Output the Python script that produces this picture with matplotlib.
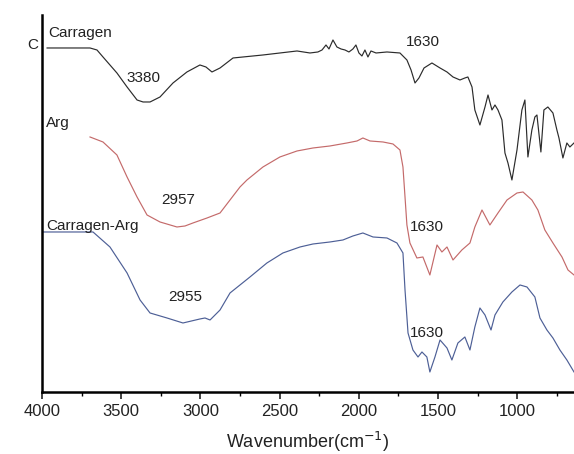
import numpy as np
import matplotlib
matplotlib.use("Agg")
import matplotlib.pyplot as plt
from matplotlib.ticker import MultipleLocator

plt.rcParams['font.family'] = ['Liberation Sans', 'DejaVu Sans']

# FTIR spectra, offset heights in arbitrary units
carragen_wn = [3968, 3697, 3653, 3615, 3527, 3463, 3400, 3362, 3318, 3255, 3173, 3085, 3003, 2965,
               2927, 2876, 2794, 2605, 2390, 2308, 2258, 2232, 2207, 2188, 2163, 2138, 2112, 2087,
               2062, 2037, 2018, 1999, 1980, 1961, 1942, 1923, 1891, 1822, 1740, 1696, 1670, 1645,
               1620, 1588, 1538, 1487, 1443, 1405, 1361, 1330, 1311, 1285, 1267, 1235, 1203, 1184,
               1159, 1140, 1121, 1096, 1077, 1058, 1033, 1001, 970, 951, 932, 907, 888, 875, 850,
               831, 806, 774, 749, 736, 711, 686, 667, 641]
carragen_y = [344, 344, 342, 335, 319, 305, 292, 290, 290, 295, 309, 320, 327, 325,
              320, 324, 334, 337, 341, 339, 340, 342, 347, 343, 352, 345, 343, 342,
              340, 343, 347, 339, 336, 342, 335, 341, 339, 340, 339, 332, 322, 309,
              314, 324, 329, 324, 320, 315, 312, 314, 315, 305, 282, 267, 285, 297,
              282, 287, 282, 272, 239, 229, 212, 242, 282, 292, 235, 262, 275, 277, 240,
              282, 285, 279, 262, 254, 234, 249, 245, 249]

arg_wn = [3697, 3615, 3527, 3463, 3400, 3337, 3255, 3148, 3097, 3047, 2958, 2876, 2813, 2750,
          2706, 2605, 2498, 2390, 2289, 2182, 2075, 2011, 1974, 1929, 1847, 1784, 1740, 1721,
          1708, 1696, 1677, 1633, 1595, 1551, 1506, 1475, 1443, 1405, 1349, 1298, 1267, 1222,
          1172, 1121, 1064, 1001, 963, 907, 869, 825, 774, 717, 679, 641]
arg_y = [255, 250, 237, 215, 195, 177, 170, 165, 166, 169, 174, 179, 192, 205,
         212, 225, 235, 241, 244, 246, 249, 251, 254, 251, 250, 248, 242, 225,
         195, 167, 149, 134, 135, 117, 147, 140, 145, 132, 142, 149, 165, 182,
         167, 179, 192, 199, 200, 192, 182, 162, 149, 135, 122, 117]

mix_wn = [3994, 3678, 3571, 3463, 3381, 3318, 3211, 3110, 3003, 2971, 2939, 2876, 2813, 2687,
          2580, 2479, 2371, 2289, 2182, 2100, 2037, 1974, 1910, 1822, 1759, 1721, 1708, 1689,
          1658, 1626, 1601, 1570, 1551, 1519, 1487, 1443, 1412, 1374, 1330, 1298, 1267, 1235,
          1203, 1165, 1140, 1090, 1033, 982, 938, 888, 856, 812, 774, 730, 686, 641]
mix_y = [160, 160, 145, 119, 92, 79, 74, 69, 73, 74, 72, 82, 99, 115,
         129, 139, 145, 148, 150, 152, 156, 159, 155, 154, 149, 139, 102, 59,
         42, 35, 40, 35, 20, 35, 52, 44, 32, 49, 55, 42, 65, 84,
         77, 62, 77, 90, 100, 107, 105, 95, 74, 62, 54, 42, 32, 20]

fig = plt.figure(figsize=(5.74, 4.54), dpi=100)
ax = fig.add_axes([0.0732, 0.1366, 0.9268, 0.8304])

ax.plot(carragen_wn, carragen_y, color='#2b2b2b', lw=0.85)
ax.plot(arg_wn, arg_y, color='#c46a6a', lw=0.85)
ax.plot(mix_wn, mix_y, color='#4d5f96', lw=0.85)

ax.set_xlim(4000, 641)
ax.set_ylim(0, 377)

txt = dict(fontsize=11, color='#222222')
ax.text(3962, 359, 'Carragen', ha='left', va='center', **txt)
ax.text(3362, 314, '3380', ha='center', va='center', **txt)
ax.text(3975, 269, 'Arg', ha='left', va='center', **txt)
ax.text(3141, 192, '2957', ha='center', va='center', **txt)
ax.text(3975, 166, 'Carragen-Arg', ha='left', va='center', **txt)
ax.text(3097, 95, '2955', ha='center', va='center', **txt)
ax.text(1595, 350, '1630', ha='center', va='center', **txt)
ax.text(1570, 165, '1630', ha='center', va='center', **txt)
ax.text(1570, 59, '1630', ha='center', va='center', **txt)
fig.text(0.057, 0.90, 'C', fontsize=11, color='#222222', ha='center', va='center')

for side in ['top', 'right']:
    ax.spines[side].set_visible(False)
for side in ['left', 'bottom']:
    ax.spines[side].set_linewidth(1.8)

ax.set_yticks([])
ax.xaxis.set_major_locator(MultipleLocator(500))
ax.xaxis.set_minor_locator(MultipleLocator(250))
ax.tick_params(axis='x', which='major', length=5, width=1.2, labelsize=12, colors='#222222')
ax.tick_params(axis='x', which='minor', length=3, width=1)
ax.set_xlabel('Wavenumber(cm$^{-1}$)', fontsize=13, color='#222222', labelpad=8)

fig.savefig('out.png', dpi=100)
